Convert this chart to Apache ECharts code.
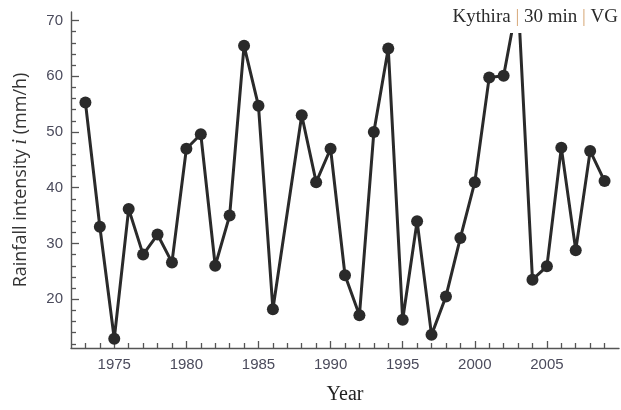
<!DOCTYPE html>
<html>
<head>
<meta charset="utf-8">
<script src="https://cdn.jsdelivr.net/npm/echarts@6/dist/echarts.min.js"></script>
<style>
  html, body { margin: 0; padding: 0; background: #fff; }
  #chart { width: 621px; height: 410px; }
</style>
</head>
<body>
<div id="chart"></div>
<script>
// Annual maximum 30-min rainfall intensity at Kythira (1987 missing)
const years = [1973, 1974, 1975, 1976, 1977, 1978, 1979, 1980, 1981, 1982,
  1983, 1984, 1985, 1986, 1987, 1988, 1989, 1990, 1991, 1992,
  1993, 1994, 1995, 1996, 1997, 1998, 1999, 2000, 2001, 2002,
  2003, 2004, 2005, 2006, 2007, 2008, 2009];
const intensity = [55.3, 33.0, 12.9, 36.2, 28.0, 31.6, 26.6, 47.0, 49.6, 26.0,
  35.0, 65.5, 54.7, 18.2, null, 53.0, 41.0, 47.0, 24.3, 17.1,
  50.0, 65.0, 16.3, 34.0, 13.6, 20.5, 31.0, 41.0, 59.8, 60.1,
  74.0, 23.5, 25.9, 47.2, 28.8, 46.6, 41.2];

const xMajorTicks = [1975, 1980, 1985, 1990, 1995, 2000, 2005];
const xMinorTicks = [1973, 1974, 1976, 1977, 1978, 1979, 1981, 1982, 1983, 1984,
  1986, 1987, 1988, 1989, 1991, 1992, 1993, 1994, 1996, 1997, 1998, 1999,
  2001, 2002, 2003, 2004, 2006, 2007, 2008, 2009];
const yMajorTicks = [20, 30, 40, 50, 60, 70];
const yMinorTicks = [12, 14, 16, 18, 22, 24, 26, 28, 32, 34, 36, 38, 42, 44, 46, 48,
  52, 54, 56, 58, 62, 64, 66, 68];

const X_MIN = 1972, X_MAX = 2010;
const Y_MIN = 11.24, Y_MAX = 71.54;

const axisColor = '#555555';
const labelColor = '#4b4b5c';

const chart = echarts.init(document.getElementById('chart'));

chart.setOption({
  animation: false,
  backgroundColor: '#ffffff',
  grid: { left: 71, right: 2, top: 12, bottom: 61 },
  xAxis: [
    {
      type: 'value', min: X_MIN, max: X_MAX,
      name: 'Year', nameLocation: 'middle', nameGap: 37,
      nameTextStyle: { fontFamily: 'Liberation Serif', fontSize: 20, color: '#222' },
      axisLine: { show: true, onZero: false, lineStyle: { color: axisColor, width: 1.4 } },
      axisTick: { show: true, inside: true, length: 7, customValues: xMajorTicks,
        lineStyle: { color: axisColor, width: 1.3 } },
      axisLabel: { customValues: xMajorTicks, margin: 9, color: labelColor,
        fontFamily: 'Liberation Sans', fontSize: 15, formatter: v => String(v) },
      splitLine: { show: false }
    },
    {
      type: 'value', min: X_MIN, max: X_MAX, position: 'bottom',
      axisLine: { show: false },
      axisTick: { show: true, inside: true, length: 5, customValues: xMinorTicks,
        lineStyle: { color: axisColor, width: 1.3 } },
      axisLabel: { show: false },
      splitLine: { show: false }
    }
  ],
  yAxis: [
    {
      type: 'value', min: Y_MIN, max: Y_MAX,
      name: 'Rainfall intensity {it|i} (mm/h)', nameLocation: 'middle', nameGap: 40,
      nameTextStyle: { fontFamily: 'Open Sans', fontSize: 18, color: '#333',
        rich: { it: { fontFamily: 'Liberation Serif', fontStyle: 'italic', fontSize: 20, color: '#333' } } },
      axisLine: { show: true, onZero: false, lineStyle: { color: axisColor, width: 1.4 } },
      axisTick: { show: true, inside: true, length: 8, customValues: yMajorTicks,
        lineStyle: { color: axisColor, width: 1.3 } },
      axisLabel: { customValues: yMajorTicks, margin: 8, color: labelColor,
        fontFamily: 'Liberation Sans', fontSize: 15 },
      splitLine: { show: false }
    },
    {
      type: 'value', min: Y_MIN, max: Y_MAX, position: 'left',
      axisLine: { show: false },
      axisTick: { show: true, inside: true, length: 5, customValues: yMinorTicks,
        lineStyle: { color: axisColor, width: 1.3 } },
      axisLabel: { show: false },
      splitLine: { show: false }
    }
  ],
  series: [{
    type: 'line',
    xAxisIndex: 0, yAxisIndex: 0,
    data: years.map((y, i) => [y, intensity[i]]),
    connectNulls: true,
    clip: true,
    symbol: 'circle',
    symbolSize: 12,
    lineStyle: { color: '#2a2a2a', width: 3 },
    itemStyle: { color: '#2a2a2a' },
    z: 2
  }],
  graphic: [
    {
      // white panel behind the station caption
      type: 'rect',
      shape: { x: 448, y: 0, width: 173, height: 33 },
      style: { fill: '#ffffff' },
      z: 99
    },
    {
      type: 'text',
      right: 3, top: 8,
      z: 100,
      style: {
        text: '{t|Kythira }{s||}{t| 30 min }{s||}{t| VG}',
        rich: {
          t: { fontFamily: 'Liberation Serif', fontSize: 19, fill: '#2b2b2b' },
          s: { fontFamily: 'Liberation Serif', fontSize: 19, fill: '#d6a676' }
        }
      }
    }
  ]
});
</script>
</body>
</html>
